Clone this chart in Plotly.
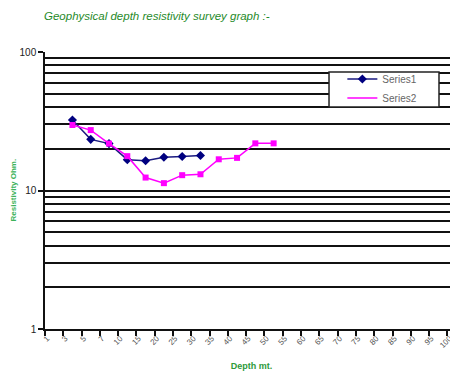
import plotly.graph_objects as go

# ── Data ─────────────────────────────────────────────────────
depth_labels = ["1", "3", "5", "7", "10", "15", "20", "25", "30", "35", "40", "45",
                "50", "55", "60", "65", "70", "75", "80", "85", "90", "95", "100"]

series1_x = ["3", "5", "7", "10", "15", "20", "25", "30"]
series1_y = [32.3, 23.4, 21.8, 16.7, 16.4, 17.4, 17.6, 17.9]

series2_x = ["3", "5", "7", "10", "15", "20", "25", "30", "35", "40", "45", "50"]
series2_y = [29.7, 27.3, 21.8, 17.7, 12.4, 11.3, 12.9, 13.1, 16.8, 17.2, 21.9, 21.9]

minor_grid = [2, 3, 4, 5, 6, 7, 8, 9, 20, 30, 40, 50, 60, 70, 80, 90]

GREEN = "#2e9a3a"
GRID = "#111111"

fig = go.Figure()

fig.add_trace(go.Scatter(
    x=series1_x, y=series1_y, name="Series1", mode="lines+markers",
    line=dict(color="#1a1a80", width=1.5),
    marker=dict(symbol="diamond", size=7, color="#000080"),
))
fig.add_trace(go.Scatter(
    x=series2_x, y=series2_y, name="Series2", mode="lines+markers",
    line=dict(color="#ff00ff", width=1.5),
    marker=dict(symbol="square", size=6, color="#ff00ff"),
    showlegend=False,
))
# legend entry for Series2 is drawn as a plain line, like the original
fig.add_trace(go.Scatter(
    x=[None], y=[None], name="Series2", mode="lines",
    line=dict(color="#ff00ff", width=1.5),
))

# page body has an 8px margin, so the figure is shrunk to fit the 458x374 window
fig.update_layout(
    width=450, height=366,
    margin=dict(l=37, r=0, t=44, b=45),
    paper_bgcolor="white", plot_bgcolor="white",
    font=dict(family="Liberation Sans, Arial, sans-serif", size=9, color="#333"),
    showlegend=True,
    legend=dict(
        x=0.72, y=0.955, xanchor="left", yanchor="top",
        bgcolor="rgba(0,0,0,0)", borderwidth=0,
        font=dict(size=10, color="#666"),
        tracegroupgap=0, itemwidth=30,
    ),
    xaxis=dict(
        type="category", categoryorder="array", categoryarray=depth_labels,
        range=[-0.5, 22.08], tickson="boundaries",
        ticks="outside", ticklen=5, tickcolor="#111", tickwidth=1.5,
        showline=True, linecolor="#111", linewidth=1.5,
        showgrid=False, tickangle=-45, ticklabelshift=-7,
        tickfont=dict(size=8, color="#555"),
        title=dict(text="<b>Depth mt.</b>", font=dict(size=9, color=GREEN), standoff=14),
    ),
    yaxis=dict(
        type="log", range=[0, 2],
        tickvals=[1, 10, 100], ticktext=["1", "10", "100"],
        ticks="outside", ticklen=5, tickcolor="#111", tickwidth=1.5,
        showline=True, linecolor="#111", linewidth=1.5,
        showgrid=True, gridcolor=GRID, gridwidth=1.5,
        tickfont=dict(size=10, color="#222"),
        minor=dict(tickvals=minor_grid, showgrid=True, gridcolor=GRID, gridwidth=1.5, ticks=""),
        zeroline=False,
    ),
    shapes=[
        dict(type="rect", xref="paper", yref="paper",
             x0=0.6877, x1=0.954, y0=0.801, y1=0.928,
             fillcolor="white", line=dict(color="#222", width=1.5), layer="above"),
    ],
)

fig.add_annotation(
    text="<i>Geophysical depth resistivity survey graph :-</i>",
    xref="paper", yref="paper", x=0, y=1.0, xanchor="left", yanchor="bottom",
    xshift=-3, yshift=28, showarrow=False,
    font=dict(family="Liberation Sans, sans-serif", size=11.5, color="#1f8a2a"),
)
fig.add_annotation(
    text="<b>Resistivity Ohm.</b>",
    xref="paper", yref="paper", x=0, y=0.5, xanchor="center", yanchor="middle",
    xshift=-32, textangle=-90, showarrow=False,
    font=dict(size=8, color="#3cb35a"),
)

fig.write_html("out.html")
